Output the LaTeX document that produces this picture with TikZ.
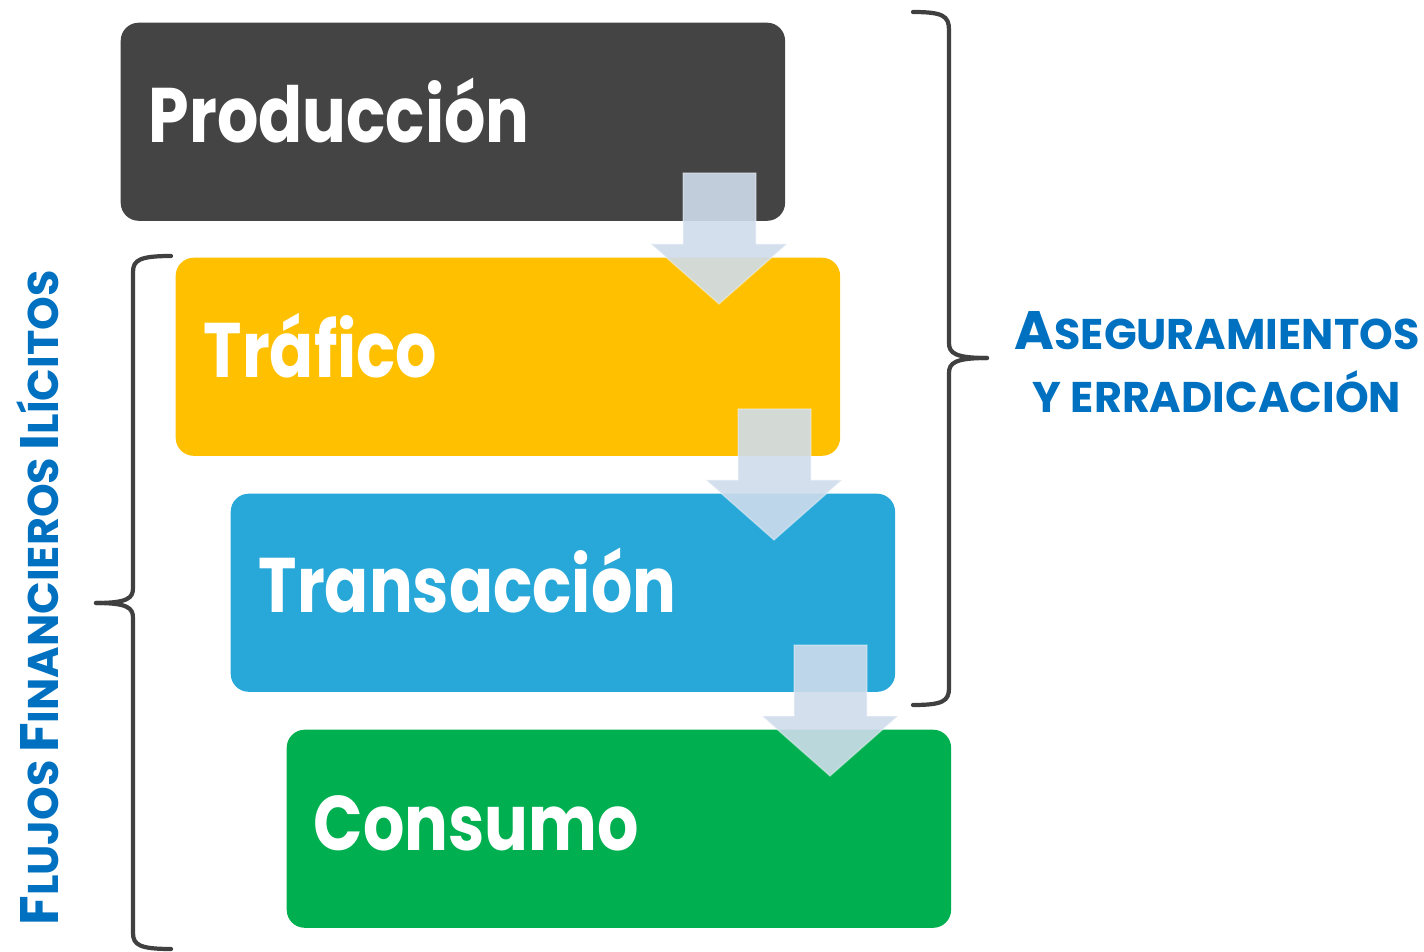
\documentclass[tikz,border=0pt]{standalone}
\usepackage{fontspec}
\setmainfont{Poppins}
\newfontfamily\stagefont{Poppins}[FakeStretch=0.84]
\usetikzlibrary{calc}
\definecolor{darkbox}{HTML}{444444}
\definecolor{yellowbox}{HTML}{FFC000}
\definecolor{bluebox}{HTML}{28A8D8}
\definecolor{greenbox}{HTML}{00B050}
\definecolor{arrowfill}{HTML}{CFDCEC}
\definecolor{bracecol}{HTML}{404040}
\definecolor{sideblue}{HTML}{0070C0}
\newcommand{\bigC}[1]{{\fontsize{15.4pt}{18pt}\selectfont #1}}
\newcommand{\smC}[1]{{\fontsize{12.2pt}{15pt}\selectfont #1}}
\begin{document}
\begin{tikzpicture}[x=0.01cm,y=-0.01cm,
  stage/.style={rounded corners=0.18cm, minimum width=6.64cm, minimum height=1.98cm, anchor=north west, inner sep=0pt},
  stagetext/.style={anchor=base west, text=white, font=\stagefont\fontsize{22pt}{26pt}\selectfont\bfseries, inner sep=0pt},
  flowarrow/.style={fill=arrowfill, fill opacity=0.9, draw=white, draw opacity=0.35, line width=0.4pt},
  bracestyle/.style={draw=bracecol, line width=1.2pt, line cap=round},
  sidetext/.style={text=sideblue, font=\bfseries, inner sep=0pt}]
\useasboundingbox (0,0) rectangle (1424,952);
% boxes
\node[stage, fill=darkbox] (prod) at (120,22) {};
\node[stage, fill=yellowbox] (traf) at (175,257) {};
\node[stage, fill=bluebox] (trans) at (230,493) {};
\node[stage, fill=greenbox] (cons) at (286,729) {};
% labels
\node[stagetext] (prodt) at (148,143) {Producción};
\node[stagetext] (traft) at (203,378) {Tráfico};
\node[stagetext] (transt) at (258,613) {Transacción};
\node[stagetext] (const) at (313,850) {Consumo};
% arrows
\foreach \dx/\dy in {0/0, 55/236, 111/472}{
  \path[flowarrow] (683+\dx,173+\dy) -- (756+\dx,173+\dy) -- (756+\dx,244+\dy) -- (787+\dx,244+\dy)
    -- (719+\dx,304+\dy) -- (651+\dx,244+\dy) -- (683+\dx,244+\dy) -- cycle;
}
% right brace
\path[bracestyle] (913,12) .. controls (943,12) and (949,16) .. (949,30) -- (949,343)
  .. controls (949,353) and (955,358) .. (987,358);
\path[bracestyle] (987,358) .. controls (955,358) and (949,363) .. (949,373) -- (949,688)
  .. controls (949,701) and (943,705) .. (913,705);
% left brace
\path[bracestyle] (171,256) .. controls (140,256) and (133,260) .. (133,272) -- (133,588)
  .. controls (133,598) and (128,603) .. (96,603);
\path[bracestyle] (96,603) .. controls (128,603) and (133,608) .. (133,618) -- (133,933)
  .. controls (133,945) and (140,949) .. (171,949);
% side texts
\node[sidetext, rotate=90] (flujos) at (38,598) {\bigC{F}\smC{LUJOS} \bigC{F}\smC{INANCIEROS} \bigC{I}\smC{LÍCITOS}};
\node[sidetext, anchor=base] (aseg) at (1217,350) {\bigC{A}\smC{SEGURAMIENTOS}};
\node[sidetext, anchor=base] (erra) at (1217,413) {\smC{Y ERRADICACIÓN}};
\end{tikzpicture}
\end{document}
